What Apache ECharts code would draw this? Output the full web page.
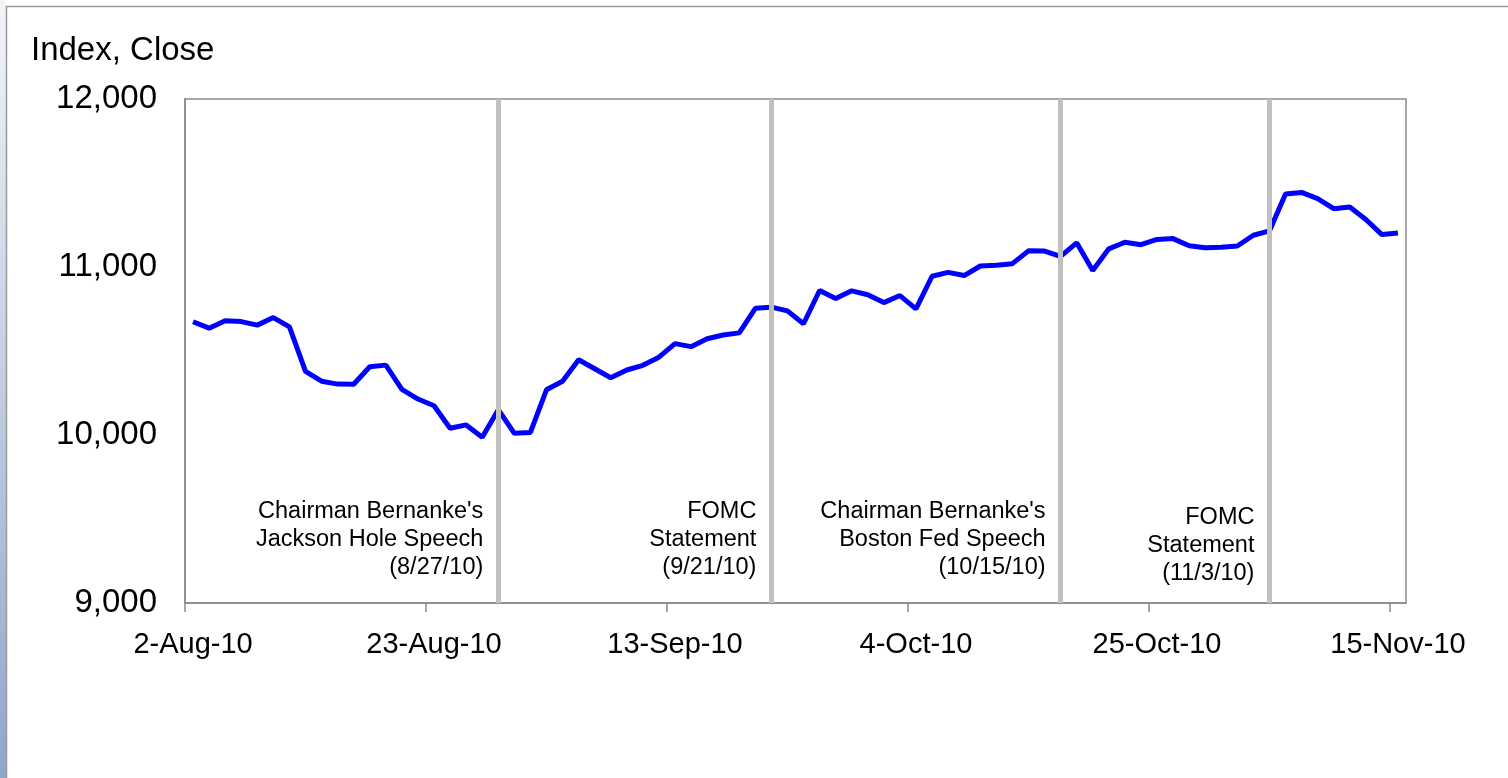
<!DOCTYPE html>
<html>
<head>
<meta charset="utf-8">
<script src="https://cdn.jsdelivr.net/npm/echarts@6/dist/echarts.min.js"></script>
<style>
  html, body { margin: 0; padding: 0; background: #ffffff; }
  #chart { width: 1508px; height: 778px; }
</style>
</head>
<body>
<div id="chart"></div>
<script>
// Trading days (weekdays) from 2-Aug-10 to 15-Nov-10
const categories = [
  '2-Aug-10','3-Aug-10','4-Aug-10','5-Aug-10','6-Aug-10',
  '9-Aug-10','10-Aug-10','11-Aug-10','12-Aug-10','13-Aug-10',
  '16-Aug-10','17-Aug-10','18-Aug-10','19-Aug-10','20-Aug-10',
  '23-Aug-10','24-Aug-10','25-Aug-10','26-Aug-10','27-Aug-10',
  '30-Aug-10','31-Aug-10',
  '1-Sep-10','2-Sep-10','3-Sep-10',
  '6-Sep-10','7-Sep-10','8-Sep-10','9-Sep-10','10-Sep-10',
  '13-Sep-10','14-Sep-10','15-Sep-10','16-Sep-10','17-Sep-10',
  '20-Sep-10','21-Sep-10','22-Sep-10','23-Sep-10','24-Sep-10',
  '27-Sep-10','28-Sep-10','29-Sep-10','30-Sep-10',
  '1-Oct-10',
  '4-Oct-10','5-Oct-10','6-Oct-10','7-Oct-10','8-Oct-10',
  '11-Oct-10','12-Oct-10','13-Oct-10','14-Oct-10','15-Oct-10',
  '18-Oct-10','19-Oct-10','20-Oct-10','21-Oct-10','22-Oct-10',
  '25-Oct-10','26-Oct-10','27-Oct-10','28-Oct-10','29-Oct-10',
  '1-Nov-10','2-Nov-10','3-Nov-10','4-Nov-10','5-Nov-10',
  '8-Nov-10','9-Nov-10','10-Nov-10','11-Nov-10','12-Nov-10',
  '15-Nov-10'
];

// Index close (Labor Day 6-Sep-10 has no value)
const closes = [
  10674, 10636, 10680, 10675, 10654,
  10699, 10644, 10379, 10320, 10303,
  10302, 10406, 10416, 10271, 10214,
  10174, 10040, 10060, 9986, 10151,
  10010, 10015,
  10269, 10320, 10448,
  null, 10341, 10387, 10415, 10463,
  10544, 10526, 10573, 10595, 10608,
  10754, 10761, 10739, 10662, 10860,
  10812, 10858, 10835, 10788,
  10830,
  10751, 10945, 10968, 10949, 11006,
  11010, 11020, 11096, 11095, 11063,
  11144, 10979, 11108, 11147, 11133,
  11164, 11169, 11126, 11114, 11118,
  11125, 11189, 11215, 11435, 11444,
  11407, 11347, 11357, 11283, 11193,
  11202
];

// Event markers
const eventDates = ['27-Aug-10', '21-Sep-10', '15-Oct-10', '3-Nov-10'];
const eventLabels = [
  "Chairman Bernanke's\nJackson Hole Speech\n(8/27/10)",
  "FOMC\nStatement\n(9/21/10)",
  "Chairman Bernanke's\nBoston Fed Speech\n(10/15/10)",
  "FOMC\nStatement\n(11/3/10)"
];
const eventLabelLevels = [9380, 9380, 9375, 9345];

const yTicks = { min: 9000, max: 12000, interval: 1000 };
const titleText = 'Index, Close';

// boundaries between categories (for the tick marks between date labels)
const tickSlots = categories.concat(['']);

const chart = echarts.init(document.getElementById('chart'), null, { renderer: 'canvas' });
const FONT = 'Liberation Sans, Arial, sans-serif';

const option = {
  animation: false,
  backgroundColor: '#ffffff',
  title: {
    text: titleText,
    left: 26,
    top: 29,
    textStyle: { fontFamily: FONT, fontSize: 33, fontWeight: 'normal', color: '#000', lineHeight: 33 }
  },
  graphic: [
    {
      type: 'rect',
      silent: true,
      z: -10,
      shape: { x: 0, y: 0, width: 6, height: 778 },
      style: {
        fill: new echarts.graphic.LinearGradient(0, 0, 0, 1, [
          { offset: 0, color: '#f2f4f8' },
          { offset: 1, color: '#8fa6cb' }
        ])
      }
    },
    {
      type: 'polyline',
      silent: true,
      z: -5,
      shape: { points: [[6.5, 778], [6.5, 6.5], [1508, 6.5]] },
      style: { stroke: '#9a9a9a', lineWidth: 1.5, fill: null }
    }
  ],
  grid: {
    left: 185,
    top: 99,
    width: 1221,
    height: 504,
    show: true,
    borderColor: '#8a8a8a',
    borderWidth: 1.5,
    backgroundColor: 'transparent',
    containLabel: false
  },
  xAxis: [
    {
      type: 'category',
      position: 'bottom',
      data: categories,
      boundaryGap: true,
      axisLine: { show: true, lineStyle: { color: '#8a8a8a', width: 1.5 } },
      axisTick: { show: false },
      axisLabel: {
        interval: 14,
        margin: 27,
        fontFamily: FONT,
        fontSize: 29,
        color: '#000'
      },
      splitLine: { show: false }
    },
    {
      type: 'category',
      position: 'bottom',
      data: tickSlots,
      boundaryGap: false,
      axisLine: { show: false },
      axisTick: { show: true, interval: 14, length: 9, lineStyle: { color: '#8a8a8a', width: 1.5 } },
      axisLabel: { show: false },
      splitLine: { show: false }
    }
  ],
  yAxis: {
    type: 'value',
    min: yTicks.min,
    max: yTicks.max,
    interval: yTicks.interval,
    axisLine: { show: true, lineStyle: { color: '#8a8a8a', width: 1.5 } },
    axisTick: { show: false },
    axisLabel: {
      margin: 28,
      fontFamily: FONT,
      fontSize: 33,
      color: '#000',
      formatter: v => v.toLocaleString('en-US')
    },
    splitLine: { show: false }
  },
  series: [
    {
      name: 'events',
      type: 'line',
      xAxisIndex: 0,
      data: [],
      z: 1,
      silent: true,
      markLine: {
        silent: true,
        symbol: 'none',
        animation: false,
        lineStyle: { color: '#c0c0c0', width: 5, type: 'solid' },
        label: { show: false },
        data: eventDates.map(d => ({ xAxis: d }))
      },
      markPoint: {
        silent: true,
        symbol: 'circle',
        symbolSize: 0,
        animation: false,
        data: eventDates.map((d, i) => ({
          coord: [d, eventLabelLevels[i]],
          label: {
            show: true,
            position: 'left',
            distance: 15,
            align: 'right',
            formatter: eventLabels[i],
            fontFamily: FONT,
            fontSize: 23.5,
            lineHeight: 28,
            color: '#000'
          }
        }))
      }
    },
    {
      name: 'Index, Close',
      type: 'line',
      xAxisIndex: 0,
      data: closes,
      z: 3,
      showSymbol: false,
      connectNulls: true,
      silent: true,
      lineStyle: { color: '#0000ff', width: 5 }
    }
  ]
};

chart.setOption(option);
</script>
</body>
</html>
